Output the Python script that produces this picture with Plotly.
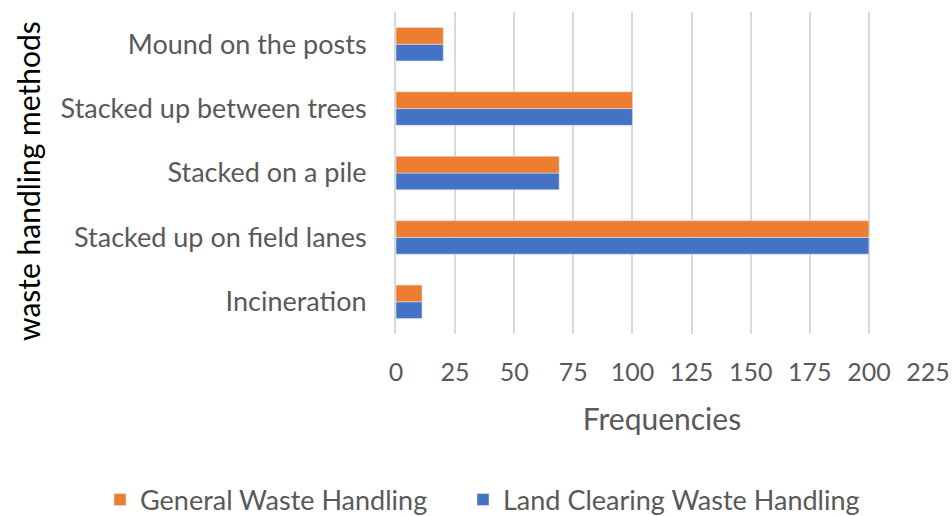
import plotly.graph_objects as go

categories = ["Incineration", "Stacked up on field lanes", "Stacked on a pile",
              "Stacked up between trees", "Mound on the posts"]
general_waste = [11, 200, 69, 100, 20]
land_clearing = [11, 200, 69, 100, 20]
x_ticks = [0, 25, 50, 75, 100, 125, 150, 175, 200, 225]
y_title = "waste handling methods"

FONT = "Lato"
GRAY = "#595959"
W, H = 952, 516

fig = go.Figure()
fig.add_trace(go.Bar(
    y=categories, x=land_clearing, orientation="h",
    name="Land Clearing Waste Handling", marker_color="#4472C4",
    legend="legend2",
))
fig.add_trace(go.Bar(
    y=categories, x=general_waste, orientation="h",
    name="General Waste Handling", marker_color="#ED7D31",
    legend="legend",
))

legend_common = dict(
    orientation="h", xref="container", yref="container",
    yanchor="middle", y=16 / H, xanchor="left",
    font=dict(family=FONT, size=27, color=GRAY),
    bgcolor="rgba(0,0,0,0)",
)

fig.update_layout(
    width=W, height=H,
    margin=dict(l=396, r=24, t=12, b=182, autoexpand=False),
    paper_bgcolor="white", plot_bgcolor="white",
    barmode="group", bargap=0.48, bargroupgap=0,
    font=dict(family=FONT, color=GRAY, size=27),
    showlegend=True,
    legend=dict(x=100 / W, **legend_common),
    legend2=dict(x=463 / W, **legend_common),
    annotations=[dict(
        text=y_title, textangle=-90, showarrow=False,
        xref="paper", yref="paper", x=0, y=0.5,
        xanchor="center", yanchor="middle",
        xshift=28 - 396, yshift=-8,
        font=dict(family=FONT, size=30, color="#000000"),
    )],
)
fig.update_xaxes(
    range=[0, 225], tickvals=x_ticks, ticktext=[str(v) for v in x_ticks],
    showgrid=True, gridcolor="#d9d9d9", gridwidth=2,
    zeroline=False, showline=False,
    ticks="outside", ticklen=16, tickcolor="rgba(0,0,0,0)",
    tickfont=dict(family=FONT, size=25, color=GRAY),
    title=dict(text="Frequencies", font=dict(family=FONT, size=30, color=GRAY), standoff=23),
    automargin=False, fixedrange=True,
)
fig.update_yaxes(
    categoryorder="array", categoryarray=categories,
    showgrid=False, zeroline=False,
    showline=True, linecolor="#d9d9d9", linewidth=2,
    ticks="outside", ticklen=22, tickcolor="rgba(0,0,0,0)",
    tickfont=dict(family=FONT, size=27, color=GRAY),
    automargin=False, fixedrange=True,
)

fig.write_html(
    "out.html",
    config={"displayModeBar": False},
    post_script=(
        "document.body.style.margin='0';"
        "document.body.style.overflow='hidden';"
        "document.documentElement.style.overflow='hidden';"
    ),
)
